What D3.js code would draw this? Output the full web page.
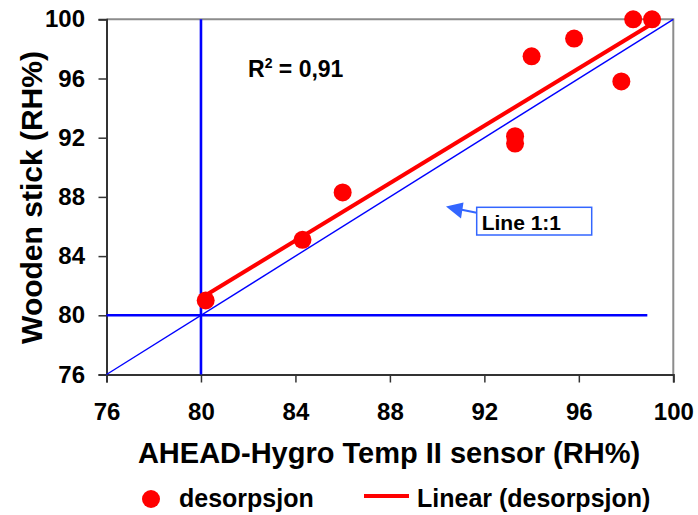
<!DOCTYPE html>
<html>
<head>
<meta charset="utf-8">
<script src="https://cdn.jsdelivr.net/npm/d3@7"></script>
<style>
  html, body { margin: 0; padding: 0; background: #fff; }
  svg { display: block; }
  text { font-family: "Liberation Sans", Arial, sans-serif; font-weight: bold; fill: #000; }
</style>
</head>
<body>
<svg id="chart" width="698" height="515"></svg>
<script>
// ---- data ----
const sensorRH = [80.2, 84.3, 86.0, 93.3, 93.3, 94.0, 95.8, 97.8, 98.3, 99.1];
const stickRH  = [81.0, 85.1, 88.3, 92.1, 91.6, 97.5, 98.7, 95.8, 100, 100];
const tickValues = [76, 80, 84, 88, 92, 96, 100];
const refLevel = 80;          // blue reference lines at 80 RH%
const refHorizontalEnd = 98.9; // horizontal reference line ends here
const r2Label = "0,91";
const seriesName = "desorpsjon";
const trendName = "Linear (desorpsjon)";
const xTitle = "AHEAD-Hygro Temp II sensor (RH%)";
const yTitle = "Wooden stick (RH%)";
const oneToOneLabel = "Line 1:1";

// ---- layout ----
const svg = d3.select("#chart");
const pL = 106.5, pR = 673.3, pT = 19.3, pB = 374.5;
const x = d3.scaleLinear().domain([76, 100]).range([pL, pR]);
const y = d3.scaleLinear().domain([76, 100]).range([pB, pT]);

// plot frame (top/right gray)
svg.append("path")
  .attr("d", `M${pL},${pT}H${pR}V${pB}`)
  .attr("fill", "none").attr("stroke", "#8c8c8c").attr("stroke-width", 2);

// axes
const xAxis = svg.append("g").attr("transform", `translate(0,${pB})`)
  .call(d3.axisBottom(x).tickValues(tickValues).tickSizeOuter(0).tickSize(8).tickPadding(20.5));
const yAxis = svg.append("g").attr("transform", `translate(${pL},0)`)
  .call(d3.axisLeft(y).tickValues(tickValues).tickSizeOuter(0).tickSize(8).tickPadding(13.5));
[xAxis, yAxis].forEach(g => {
  g.select(".domain").attr("stroke", "#333").attr("stroke-width", 2);
  g.selectAll(".tick line").attr("stroke", "#333").attr("stroke-width", 1.5);
  g.selectAll(".tick text")
    .style("font-family", '"Liberation Sans", Arial, sans-serif')
    .style("font-weight", "bold").style("font-size", "24px").attr("fill", "#000");
});

// 1:1 line
svg.append("line")
  .attr("x1", x(76)).attr("y1", y(76)).attr("x2", x(100)).attr("y2", y(100))
  .attr("stroke", "#0000ff").attr("stroke-width", 1.4);

// reference lines at 80
svg.append("line")
  .attr("x1", x(refLevel)).attr("y1", y(100)).attr("x2", x(refLevel)).attr("y2", y(76))
  .attr("stroke", "#0000ff").attr("stroke-width", 2.6);
svg.append("line")
  .attr("x1", x(76)).attr("y1", y(refLevel)).attr("x2", x(refHorizontalEnd)).attr("y2", y(refLevel))
  .attr("stroke", "#0000ff").attr("stroke-width", 2.6);

// linear regression trendline
const n = sensorRH.length;
const mx = d3.mean(sensorRH), my = d3.mean(stickRH);
let sxy = 0, sxx = 0;
for (let i = 0; i < n; i++) { sxy += (sensorRH[i]-mx)*(stickRH[i]-my); sxx += (sensorRH[i]-mx)**2; }
const slope = sxy / sxx, icpt = my - slope * mx;
const xMin = d3.min(sensorRH), xMax = d3.max(sensorRH);
svg.append("line")
  .attr("x1", x(xMin)).attr("y1", y(icpt + slope * xMin))
  .attr("x2", x(xMax)).attr("y2", y(icpt + slope * xMax))
  .attr("stroke", "#ff0000").attr("stroke-width", 4);

// points
svg.append("g").selectAll("circle")
  .data(sensorRH.map((v, i) => [v, stickRH[i]]))
  .join("circle")
  .attr("cx", d => x(d[0])).attr("cy", d => y(d[1])).attr("r", 9)
  .attr("fill", "#ff0000");

// R² label
const r2 = svg.append("text").attr("x", 248).attr("y", 76.7).style("font-size", "23px");
r2.append("tspan").text("R");
r2.append("tspan").attr("dy", -9).style("font-size", "14px").text("2");
r2.append("tspan").attr("dy", 9).text(" = " + r2Label);

// Line 1:1 callout
const calloutColor = "#3366ff";
svg.append("line")
  .attr("x1", 476.7).attr("y1", 212.7).attr("x2", 458).attr("y2", 209)
  .attr("stroke", calloutColor).attr("stroke-width", 2);
svg.append("path")
  .attr("d", "M446,206.5 L463.5,202.5 L461,218.5 Z")
  .attr("fill", calloutColor);
svg.append("rect")
  .attr("x", 476.7).attr("y", 207.3).attr("width", 115).attr("height", 27.7)
  .attr("fill", "#fff").attr("stroke", calloutColor).attr("stroke-width", 1.5);
svg.append("text").attr("x", 481.7).attr("y", 229.5).style("font-size", "21px").text(oneToOneLabel);

// axis titles
svg.append("text").attr("x", 389).attr("y", 463.3).attr("text-anchor", "middle")
  .style("font-size", "29px").text(xTitle);
svg.append("text").attr("transform", "translate(41.7,197.5) rotate(-90)")
  .attr("text-anchor", "middle").style("font-size", "30px").text(yTitle);

// legend
svg.append("circle").attr("cx", 151).attr("cy", 499).attr("r", 9).attr("fill", "#ff0000");
svg.append("text").attr("x", 179).attr("y", 506.5).style("font-size", "25px").text(seriesName);
svg.append("line").attr("x1", 364).attr("y1", 496).attr("x2", 409).attr("y2", 496)
  .attr("stroke", "#ff0000").attr("stroke-width", 4);
svg.append("text").attr("x", 417).attr("y", 506.5).style("font-size", "25px").text(trendName);
</script>
</body>
</html>
